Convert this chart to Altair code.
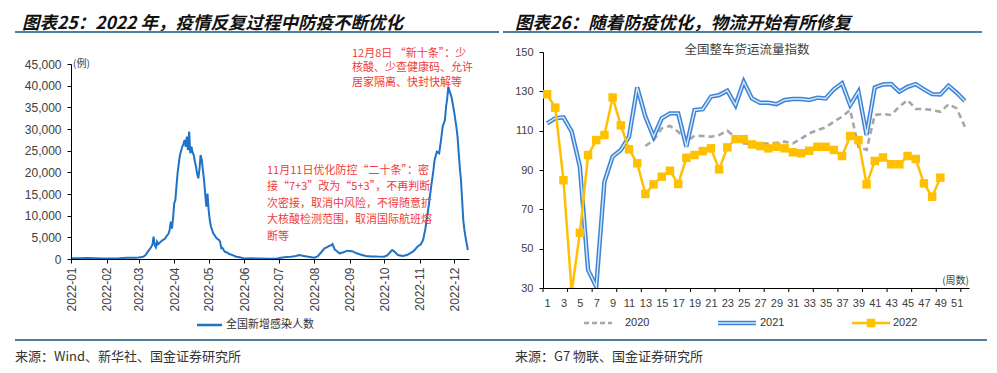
import altair as alt
import pandas as pd

# ---------------- data: left panel (daily new infections, 2022) ----------------
infect_dates = [
    "2022-01-01", "2022-01-08", "2022-01-15", "2022-01-22", "2022-01-29", "2022-02-05",
    "2022-02-12", "2022-02-19", "2022-02-26", "2022-03-01", "2022-03-05", "2022-03-07",
    "2022-03-09", "2022-03-11", "2022-03-12", "2022-03-13", "2022-03-14", "2022-03-15",
    "2022-03-16", "2022-03-17", "2022-03-18", "2022-03-20", "2022-03-22", "2022-03-24",
    "2022-03-25", "2022-03-27", "2022-03-28", "2022-03-29", "2022-03-30", "2022-03-31",
    "2022-04-01", "2022-04-02", "2022-04-03", "2022-04-04", "2022-04-05", "2022-04-06",
    "2022-04-07", "2022-04-08", "2022-04-09", "2022-04-10", "2022-04-11", "2022-04-12",
    "2022-04-13", "2022-04-14", "2022-04-15", "2022-04-16", "2022-04-17", "2022-04-18",
    "2022-04-19", "2022-04-20", "2022-04-21", "2022-04-22", "2022-04-23", "2022-04-24",
    "2022-04-25", "2022-04-26", "2022-04-27", "2022-04-28", "2022-04-29", "2022-04-30",
    "2022-05-01", "2022-05-02", "2022-05-03", "2022-05-05", "2022-05-08", "2022-05-10",
    "2022-05-11", "2022-05-12", "2022-05-13", "2022-05-15", "2022-05-17", "2022-05-19",
    "2022-05-22", "2022-05-25", "2022-05-28", "2022-06-01", "2022-06-08", "2022-06-15",
    "2022-06-22", "2022-06-29", "2022-07-03", "2022-07-08", "2022-07-12", "2022-07-16",
    "2022-07-19", "2022-07-23", "2022-07-27", "2022-08-01", "2022-08-04", "2022-08-07",
    "2022-08-10", "2022-08-12", "2022-08-14", "2022-08-16", "2022-08-17", "2022-08-19",
    "2022-08-21", "2022-08-23", "2022-08-26", "2022-08-30", "2022-09-03", "2022-09-07",
    "2022-09-11", "2022-09-15", "2022-09-20", "2022-09-25", "2022-10-01", "2022-10-04",
    "2022-10-06", "2022-10-08", "2022-10-10", "2022-10-13", "2022-10-17", "2022-10-21",
    "2022-10-26", "2022-10-28", "2022-10-30", "2022-11-02", "2022-11-04", "2022-11-06",
    "2022-11-07", "2022-11-09", "2022-11-11", "2022-11-13", "2022-11-14", "2022-11-16",
    "2022-11-18", "2022-11-20", "2022-11-21", "2022-11-23", "2022-11-24", "2022-11-25",
    "2022-11-26", "2022-11-27", "2022-11-28", "2022-11-29", "2022-12-01", "2022-12-03",
    "2022-12-04", "2022-12-06", "2022-12-07", "2022-12-09", "2022-12-10", "2022-12-11",
    "2022-12-13",
]
infect_values = [
    180, 160, 210, 150, 120, 130,
    170, 260, 280, 350, 530, 900,
    1690, 2400, 2840, 3300, 5150, 3200,
    2700, 4000, 3400, 3900, 4380, 4700,
    5150, 5800, 6700, 8620, 7000, 9500,
    12860, 13600, 17000, 20000, 22080, 24000,
    25000, 25900, 26500, 27460, 25900, 28230,
    25100, 29400, 24400, 25900, 24600, 24000,
    22500, 21300, 19600, 18620, 20700, 24000,
    22850, 20500, 18230, 15000, 12070, 15100,
    11300, 9000, 7500, 5930, 4770, 4400,
    4000, 2460, 2600, 1700, 1500, 1150,
    900, 530, 400, 100, 150, 90,
    50, 80, 300, 450, 500, 700,
    920, 700, 500, 300, 600, 1500,
    2460, 2700, 3000, 3200, 3460, 2150,
    1800, 1310, 1500, 1920, 1800, 1310,
    1000, 690, 600, 550, 540, 900,
    1500, 2080, 1700, 920, 690, 900,
    1690, 2200, 2840, 3400, 4380, 7000,
    9000, 12500, 16690, 20500, 22850, 24770,
    24400, 28230, 30500, 32080, 35150, 37000,
    39770, 38800, 38000, 37090, 34000, 30500,
    28230, 21000, 18230, 9000, 6700, 5000,
    2080,
]

# ---------------- data: right panel (weekly freight index) ----------------
weeks_2020 = list(range(13, 53))
vals_2020 = [
    102.2, 105.2, 111.2, 112.4, 109.5, 104.4, 107.4, 107.3, 106.9, 107.8,
    110.0, 106.6, 103.5, 103.2, 103.5, 103.5, 103.8, 104.4, 103.5, 105.9,
    108.6, 110.3, 111.7, 114.5, 117.1, 120.5, 101.8, 100.2, 118.0, 118.5,
    118.0, 122.2, 125.6, 121.0, 121.0, 120.5, 119.6, 123.4, 121.3, 112.0,
]
weeks_2021 = list(range(1, 53))
vals_2021 = [
    113.7, 116.3, 116.8, 109.5, 91.7, 39.2, 30.7, 84.0, 96.8, 100.2,
    106.9, 132.0, 117.1, 106.9, 116.3, 118.8, 118.8, 101.8, 120.5, 120.9,
    127.3, 128.1, 130.3, 123.0, 134.9, 126.4, 124.2, 124.2, 123.5, 125.6,
    126.1, 126.1, 125.6, 126.8, 126.4, 131.0, 134.1, 123.0, 129.8, 107.8,
    132.0, 133.5, 133.7, 129.8, 132.3, 133.7, 131.0, 128.6, 128.4, 132.8,
    129.3, 125.1,
]
weeks_2022 = list(range(1, 50))
vals_2022 = [
    128.5, 121.7, 84.8, 28.0, 58.1, 97.6, 105.2, 107.8, 126.9, 112.7,
    100.5, 93.4, 77.8, 82.7, 86.6, 89.6, 82.9, 96.2, 97.6, 99.6,
    101.0, 90.3, 101.5, 105.7, 105.7, 103.0, 102.2, 101.0, 101.8, 101.0,
    99.0, 98.5, 99.8, 101.8, 101.8, 100.2, 97.1, 107.3, 105.2, 82.7,
    94.6, 96.4, 92.9, 92.9, 97.1, 95.6, 83.2, 76.4, 86.1,
]

# ---------------- labels / ticks ----------------
left_y_ticks = [0, 5000, 10000, 15000, 20000, 25000, 30000, 35000, 40000, 45000]
right_y_ticks = [30, 50, 70, 90, 110, 130, 150]
week_labels = list(range(1, 52, 2))
week_tick_marks = [0.5 + 3 * k for k in range(18)]

title_left = "图表25：2022 年，疫情反复过程中防疫不断优化"
title_right = "图表26：随着防疫优化，物流开始有所修复"
note_top = ["12月8日 “新十条”：少", "核酸、少查健康码、允许", "居家隔离、快封快解等"]
note_mid = ["11月11日优化防控“二十条”：密", "接“7+3”改为“5+3”，不再判断",
            "次密接，取消中风险，不得随意扩", "大核酸检测范围，取消国际航班熔", "断等"]
source_left = "来源：Wind、新华社、国金证券研究所"
source_right = "来源：G7 物联、国金证券研究所"
chart_sub = "全国整车货运流量指数"

CJK = "Noto Sans CJK SC"
LAT = "Liberation Sans"
RULE_BLUE = "#4f7f9f"
RED = "#f23a3a"

one = alt.Data(values=[{}])

# panel origins on the page (plot-area top-left corners)
LX0, RX0, Y0 = 71, 543, 52


def txt(text, x, y, ox, size=11, color="#333333", align="left", font=CJK, weight="normal",
        style="normal", line_height=None, baseline="middle"):
    """x, y in page pixels; ox = panel origin x."""
    kw = dict(text=text, fontSize=size, color=color, align=align, font=font,
              fontWeight=weight, fontStyle=style, baseline=baseline)
    if line_height:
        kw["lineHeight"] = line_height
    return alt.Chart(one).mark_text(**kw).encode(x=alt.value(x - ox), y=alt.value(y - Y0))


def hrule(x1, x2, y, ox, color=RULE_BLUE, width=2.0, dash=None):
    kw = dict(color=color, strokeWidth=width)
    if dash:
        kw["strokeDash"] = dash
    return alt.Chart(one).mark_rule(**kw).encode(
        x=alt.value(x1 - ox), x2=alt.value(x2 - ox), y=alt.value(y - Y0))


# ---------------- left panel ----------------
left_df = pd.DataFrame({"date": infect_dates, "cases": infect_values})

LW, H = 398, 236
L_ZERO = 259 - Y0   # page y of value 0
L_TOP = 64 - Y0     # page y of value 45,000

# transparent frame fixing the canvas extent (page 8..989 x 8..365)
bg = alt.Chart(one).mark_rect(color="white", opacity=0).encode(
    x=alt.value(8 - LX0), x2=alt.value(989 - LX0), y=alt.value(8 - Y0), y2=alt.value(365 - Y0))

left_line = alt.Chart(left_df).mark_line(color="#1f73c6", strokeWidth=2).encode(
    x=alt.X("date:T",
            scale=alt.Scale(type="utc",
                            domain=[alt.DateTime(year=2022, month=1, date=1, utc=True),
                                    alt.DateTime(year=2022, month=12, date=14, utc=True)]),
            axis=alt.Axis(title=None, format="%Y-%m", labelAngle=270,
                          values=[alt.DateTime(year=2022, month=m, date=1, utc=True)
                                  for m in range(1, 13)],
                          labelAlign="right", labelBaseline="middle",
                          labelFont=LAT, labelFontSize=12, labelColor="#404040",
                          tickSize=4, labelPadding=4, tickColor="#000", domainColor="#000",
                          grid=False, labelOverlap=False, labelFlush=False, zindex=1,
                          offset=L_ZERO - H)),
    y=alt.Y("cases:Q",
            scale=alt.Scale(domain=[0, 45000], range=[L_ZERO, L_TOP], nice=False, zero=False),
            axis=alt.Axis(title=None, values=left_y_ticks, format=",.0f",
                          labelFont=LAT, labelFontSize=12, labelColor="#404040",
                          tickSize=4, labelPadding=6, tickColor="#000", domainColor="#000",
                          grid=False, zindex=1)),
)

left = alt.layer(
    bg,
    left_line,
    txt("(例)", 73, 64, LX0, size=10, color="#404040"),
    txt(note_top, 352, 47.5, LX0, size=11, color=RED, line_height=14.5, baseline="top"),
    txt(note_mid, 267, 164.5, LX0, size=11, color=RED, line_height=16.6, baseline="top"),
    txt(title_left, 22, 28.5, LX0, size=17.5, color="#111111", weight="bold", style="italic",
        baseline="alphabetic"),
    hrule(15, 499, 32, LX0),
    hrule(15, 987, 340, LX0),
    hrule(197, 222, 325, LX0, color="#1f73c6", width=2.5),
    txt("全国新增感染人数", 226, 325, LX0, size=11, color="#333333"),
    txt(source_left, 15, 357, LX0, size=13, color="#333333"),
).properties(width=LW, height=H)

# ---------------- right panel ----------------
RW = 426
xs = alt.Scale(domain=[0.5, 52.5], nice=False, zero=False)
ys = alt.Scale(domain=[30, 150], nice=False, zero=False)
x_axis = alt.Axis(title=None, values=week_labels, ticks=False, labelPadding=9,
                  labelFont=LAT, labelFontSize=11, labelColor="#404040", labelAngle=0,
                  domainColor="#000", grid=False, labelOverlap=False, labelFlush=False)
y_axis = alt.Axis(title=None, values=right_y_ticks, tickSize=4, labelPadding=6,
                  labelFont=LAT, labelFontSize=11, labelColor="#404040",
                  tickColor="#000", domainColor="#000", grid=False)

d20 = pd.DataFrame({"week": weeks_2020, "v": vals_2020})
d21 = pd.DataFrame({"week": weeks_2021, "v": vals_2021})
d22 = pd.DataFrame({"week": weeks_2022, "v": vals_2022})


def enc(ch):
    return ch.encode(x=alt.X("week:Q", scale=xs, axis=x_axis),
                     y=alt.Y("v:Q", scale=ys, axis=y_axis))


l20 = enc(alt.Chart(d20).mark_line(color="#a6a6a6", strokeWidth=2.6, strokeDash=[6, 4]))
l21a = enc(alt.Chart(d21).mark_line(color="#3d84d6", strokeWidth=4.4, clip=True))
l21b = enc(alt.Chart(d21).mark_line(color="#d8e8fb", strokeWidth=1.4, clip=True))
l22 = enc(alt.Chart(d22).mark_line(
    color="#ffc000", strokeWidth=2.5, clip=True,
    point=alt.OverlayMarkDef(shape="square", size=72, filled=True, color="#ffc000")))

ticks = alt.Chart(pd.DataFrame({"week": week_tick_marks})).mark_rule(
    color="#000", strokeWidth=1).encode(
    x=alt.X("week:Q", scale=xs, axis=x_axis), y=alt.value(H), y2=alt.value(H + 4))

leg_y = 323
leg20 = hrule(584, 612, leg_y, RX0, color="#a6a6a6", width=2.6, dash=[5, 3])
leg21a = hrule(718, 756, leg_y, RX0, color="#3d84d6", width=4.4)
leg21b = hrule(718, 756, leg_y, RX0, color="#d8e8fb", width=1.4)
leg22 = hrule(852, 890, leg_y, RX0, color="#ffc000", width=2.5)
leg22p = alt.Chart(one).mark_square(size=72, color="#ffc000", opacity=1).encode(
    x=alt.value(871 - RX0), y=alt.value(leg_y - Y0))

right = alt.layer(
    l20, l21a, l21b, l22, ticks,
    txt(chart_sub, 747, 50, RX0, size=12.5, color="#404040", align="center"),
    txt("(周数)", 969, 281, RX0, size=10, color="#404040", align="right"),
    leg20, txt("2020", 625, leg_y, RX0, size=11, font=LAT, color="#333333"),
    leg21a, leg21b, txt("2021", 760, leg_y, RX0, size=11, font=LAT, color="#333333"),
    leg22, leg22p, txt("2022", 893, leg_y, RX0, size=11, font=LAT, color="#333333"),
    txt(title_right, 515, 28.5, RX0, size=17.5, color="#111111", weight="bold", style="italic",
        baseline="alphabetic"),
    hrule(503, 982, 32, RX0),
    txt(source_right, 515, 357, RX0, size=13, color="#333333"),
).properties(width=RW, height=H)

chart = alt.hconcat(left, right, spacing=RX0 - LX0 - LW, bounds="flush").properties(
    padding=0).configure_view(stroke=None)

chart.save("out.html", embed_options={"renderer": "svg", "actions": False})
